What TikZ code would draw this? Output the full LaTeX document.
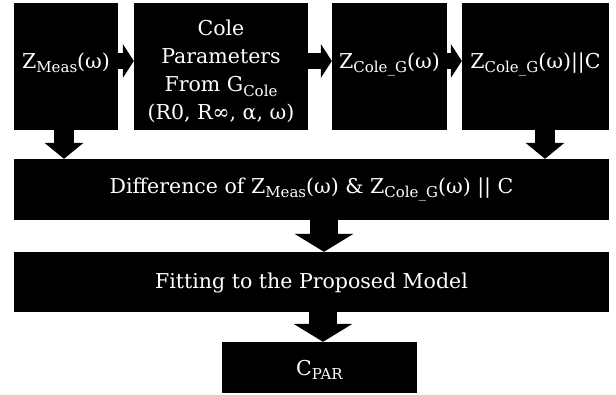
\documentclass[tikz,border=0pt]{standalone}
\usepackage{fontspec}
\setmainfont{DejaVu Serif}
\usetikzlibrary{arrows.meta}

\newcommand{\lsub}[1]{\raisebox{-0.2em}{\fontsize{15}{15}\selectfont #1}}

\tikzset{
  blk/.style={rectangle, fill=black, text=white, inner sep=0pt, align=center,
    font=\fontsize{20.5}{28}\selectfont},
  harrow/.style={line width=16pt, -{Triangle[width=34pt,length=11pt,line width=0pt]}},
  sdown/.style={line width=20pt, -{Triangle[width=39pt,length=16pt,line width=0pt]}},
  bdown/.style={line width=28pt, -{Triangle[width=59pt,length=18pt,line width=0pt]}}
}

\begin{document}
\begin{tikzpicture}[x=1pt, y=-1pt]
  \useasboundingbox (0,0) rectangle (616,394);
  %% Top row
  \node[blk, minimum width=104pt, minimum height=127pt, text depth=12pt] (meas) at (66,66.5)
    {Z\lsub{Meas}(ω)};
  \node[blk, minimum width=174pt, minimum height=127pt, text height=110pt] (cole) at (221,66.5)
    {Cole\\Parameters\\From G\lsub{Cole}\\(R0, R∞, α, ω)};
  \node[blk, minimum width=115pt, minimum height=127pt, text depth=12pt] (zcole) at (389.5,66.5)
    {Z\lsub{Cole\_G}(ω)};
  \node[blk, minimum width=147pt, minimum height=127pt, text depth=12pt] (zpar) at (535.5,66.5)
    {Z\lsub{Cole\_G}(ω)||C};
  %% Wide boxes
  \node[blk, minimum width=595pt, minimum height=61pt] (diff) at (311.5,189.5)
    {Difference of Z\lsub{Meas}(ω) \& Z\lsub{Cole\_G}(ω) || C};
  \node[blk, minimum width=595pt, minimum height=60pt, text depth=2pt] (fit) at (311.5,282)
    {Fitting to the Proposed Model};
  \node[blk, minimum width=195pt, minimum height=51pt, text height=20pt] (cpar) at (319.5,367.5)
    {C\lsub{PAR}};
  %% Block arrows
  \draw[harrow] ([yshift=5.5pt]meas.east) -- ([yshift=5.5pt]cole.west);
  \draw[harrow] ([yshift=5.5pt]cole.east) -- ([yshift=5.5pt]zcole.west);
  \draw[harrow] ([yshift=5.5pt]zcole.east) -- ([yshift=5.5pt]zpar.west);
  \draw[sdown] ([xshift=-2pt]meas.south) -- ([xshift=-2pt]meas.south |- diff.north);
  \draw[sdown] ([xshift=9.5pt]zpar.south) -- ([xshift=9.5pt]zpar.south |- diff.north);
  \draw[bdown] ([xshift=12.5pt]diff.south) -- ([xshift=12.5pt]diff.south |- fit.north);
  \draw[bdown] ([xshift=11.5pt]fit.south) -- ([xshift=11.5pt]fit.south |- cpar.north);
\end{tikzpicture}
\end{document}
